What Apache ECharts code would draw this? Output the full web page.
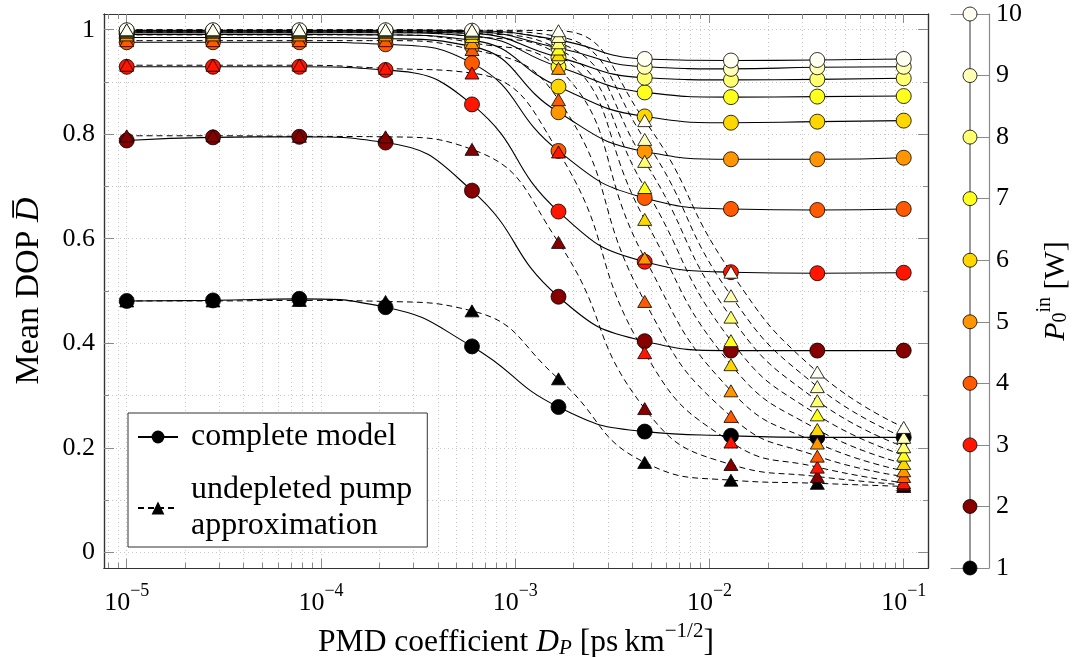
<!DOCTYPE html>
<html><head><meta charset="utf-8">
<script src="https://cdn.jsdelivr.net/npm/echarts@6/dist/echarts.min.js"></script>
<style>html,body{margin:0;padding:0;background:#fff}#c{width:1077px;height:657px}</style>
</head><body><div id="c"></div>
<script>
// PMD coefficient values (ps/sqrt(km)), log-spaced samples
const dp = [1e-5, 2.78e-5, 7.74e-5, 2.15e-4, 5.99e-4, 1.67e-3, 4.64e-3, 1.29e-2, 3.59e-2, 1e-1];

// complete model (circles, solid lines), P0in = 1..10 W
const complete1  = [0.481, 0.482, 0.485, 0.469, 0.394, 0.278, 0.231, 0.223, 0.220, 0.220];
const complete2  = [0.788, 0.794, 0.795, 0.784, 0.692, 0.489, 0.404, 0.386, 0.386, 0.386];
const complete3  = [0.929, 0.929, 0.929, 0.923, 0.857, 0.652, 0.556, 0.536, 0.534, 0.535];
const complete4  = [0.976, 0.976, 0.976, 0.972, 0.936, 0.768, 0.678, 0.657, 0.655, 0.657];
const complete5  = [0.985, 0.985, 0.985, 0.983, 0.968, 0.842, 0.767, 0.752, 0.752, 0.755];
const complete6  = [0.991, 0.991, 0.991, 0.990, 0.980, 0.891, 0.834, 0.822, 0.824, 0.826];
const complete7  = [0.994, 0.994, 0.994, 0.994, 0.988, 0.929, 0.880, 0.871, 0.872, 0.873];
const complete8  = [0.996, 0.996, 0.996, 0.996, 0.993, 0.947, 0.908, 0.904, 0.905, 0.907];
const complete9  = [0.998, 0.998, 0.998, 0.998, 0.996, 0.965, 0.929, 0.925, 0.928, 0.929];
const complete10 = [0.999, 0.999, 0.999, 0.999, 0.998, 0.980, 0.944, 0.941, 0.942, 0.944];

// undepleted pump approximation (triangles, dashed lines)
const undepleted1  = [0.481, 0.481, 0.482, 0.480, 0.462, 0.332, 0.172, 0.138, 0.132, 0.126];
const undepleted2  = [0.797, 0.797, 0.796, 0.795, 0.771, 0.593, 0.275, 0.168, 0.145, 0.129];
const undepleted3  = [0.932, 0.932, 0.932, 0.926, 0.917, 0.766, 0.382, 0.211, 0.163, 0.133];
const undepleted4  = [0.979, 0.979, 0.979, 0.979, 0.962, 0.866, 0.480, 0.260, 0.184, 0.145];
const undepleted5  = [0.990, 0.990, 0.990, 0.990, 0.975, 0.926, 0.563, 0.309, 0.209, 0.156];
const undepleted6  = [0.995, 0.995, 0.995, 0.995, 0.987, 0.952, 0.637, 0.359, 0.235, 0.170];
const undepleted7  = [0.997, 0.997, 0.997, 0.997, 0.993, 0.963, 0.698, 0.405, 0.263, 0.186];
const undepleted8  = [0.998, 0.998, 0.998, 0.998, 0.996, 0.975, 0.748, 0.450, 0.290, 0.202];
const undepleted9  = [0.999, 0.999, 0.999, 0.999, 0.998, 0.987, 0.790, 0.491, 0.317, 0.220];
const undepleted10 = [1.000, 1.000, 1.000, 1.000, 0.999, 0.998, 0.826, 0.536, 0.345, 0.239];

const powerLevels = [1, 2, 3, 4, 5, 6, 7, 8, 9, 10];
const powerColors = ['#000000', '#870000', '#ff1500', '#ff5a00', '#ff9500',
                     '#ffd700', '#ffff1e', '#ffff70', '#ffffb6', '#fffff2'];

const xMajorExp = [-5, -4, -3, -2, -1];
const yMajorTicks = [0, 0.2, 0.4, 0.6, 0.8, 1];
const yMinorTicks = [0, 0.1, 0.2, 0.3, 0.4, 0.5, 0.6, 0.7, 0.8, 0.9, 1];
const legendNames = ['complete model', 'undepleted pump approximation'];

const XMIN = -5.117, XMAX = -0.875, YMIN = -0.03, YMAX = 1.03;
const F = '"Liberation Serif", "DejaVu Serif", serif';
const AXC = '#333333', TICKC = '#8a8a8a', GRIDC = '#c6c6c6';

const completeSets = [complete1, complete2, complete3, complete4, complete5, complete6, complete7, complete8, complete9, complete10];
const undepletedSets = [undepleted1, undepleted2, undepleted3, undepleted4, undepleted5, undepleted6, undepleted7, undepleted8, undepleted9, undepleted10];
const logDp = dp.map(v => Math.log10(v));
const pts = arr => arr.map((y, i) => [logDp[i], y]);

// log minor tick positions
const xMinorPos = [];
for (let n = -6; n <= -1; n++) for (let k = 1; k <= 9; k++) {
  const v = Math.log10(k) + n;
  if (v >= XMIN && v <= XMAX) xMinorPos.push(v);
}

const xLabelRich = {
  b: {fontFamily: F, fontSize: 26, lineHeight: 34, verticalAlign: 'bottom', color: '#000'},
  s: {fontFamily: F, fontSize: 18, lineHeight: 18, verticalAlign: 'top', color: '#000'}
};

function xAx(pos, ticks, len, labels, grid) {
  return {
    type: 'value', min: XMIN, max: XMAX, position: pos, gridIndex: 0,
    axisLine: {show: true, onZero: false, lineStyle: {color: AXC, width: 1.2}},
    axisTick: {show: true, inside: true, length: len, customValues: ticks, lineStyle: {color: TICKC, width: 1}},
    axisLabel: labels ? {show: true, customValues: xMajorExp, margin: 14,
      formatter: v => '{b|10}{s|\u2212' + Math.round(-v) + '}', rich: xLabelRich} : {show: false},
    splitLine: {show: !!grid, lineStyle: {color: GRIDC, type: [1, 3], width: 1}},
    minorTick: {show: false}
  };
}
function yAx(pos, ticks, len, labels, grid) {
  return {
    type: 'value', min: YMIN, max: YMAX, position: pos, gridIndex: 0,
    axisLine: {show: true, onZero: false, lineStyle: {color: AXC, width: 1.2}},
    axisTick: {show: true, inside: true, length: len, customValues: ticks, lineStyle: {color: TICKC, width: 1}},
    axisLabel: labels ? {show: true, customValues: yMajorTicks, margin: 9, fontFamily: F, fontSize: 26, color: '#000',
      formatter: v => String(Math.round(v * 10) / 10)} : {show: false},
    splitLine: {show: !!grid, lineStyle: {color: GRIDC, type: [1, 3], width: 1}}
  };
}

const xAxes = [
  xAx('bottom', xMajorExp, 9, true, false),
  xAx('bottom', xMinorPos, 5, false, true),
  xAx('top', xMajorExp, 9, false, false),
  xAx('top', xMinorPos, 5, false, false)
];
xAxes[0].name = '{n|PMD coefficient }{i|D}{sub|P}{n| [ps\u2009km}{sup|\u22121/2}{n|]}';
xAxes[0].nameLocation = 'middle';
xAxes[0].nameGap = 48;
xAxes[0].nameTextStyle = {rich: {
  n: {fontFamily: F, fontSize: 31.5, lineHeight: 38, verticalAlign: 'bottom', color: '#000'},
  i: {fontFamily: F, fontSize: 31.5, lineHeight: 38, verticalAlign: 'bottom', fontStyle: 'italic', color: '#000'},
  sub: {fontFamily: F, fontSize: 21, lineHeight: 25, verticalAlign: 'bottom', fontStyle: 'italic', color: '#000'},
  sup: {fontFamily: F, fontSize: 21, lineHeight: 21, verticalAlign: 'top', color: '#000'}
}};
// right legend-axis grid x axes
xAxes.push({type: 'value', gridIndex: 1, min: -1, max: 1, position: 'bottom',
  axisLine: {show: true, onZero: false, lineStyle: {color: TICKC, width: 1}}, axisTick: {show: false}, axisLabel: {show: false}, splitLine: {show: false}});
xAxes.push({type: 'value', gridIndex: 1, min: -1, max: 1, position: 'top',
  axisLine: {show: true, onZero: false, lineStyle: {color: TICKC, width: 1}}, axisTick: {show: false}, axisLabel: {show: false}, splitLine: {show: false}});

const yAxes = [
  yAx('left', yMajorTicks, 10, true, false),
  yAx('left', yMinorTicks, 5, false, true),
  yAx('right', yMajorTicks, 10, false, false),
  yAx('right', yMinorTicks, 5, false, false)
];
yAxes[0].name = '{n|Mean DOP }{d|D\u0305}';
yAxes[0].nameLocation = 'middle';
yAxes[0].nameRotate = 90;
yAxes[0].nameGap = 58;
yAxes[0].nameTextStyle = {rich: {
  n: {fontFamily: F, fontSize: 34, color: '#000'},
  d: {fontFamily: F, fontSize: 34, fontStyle: 'italic', color: '#000'}
}};
yAxes.push({
  type: 'value', gridIndex: 1, min: 1, max: 10, interval: 1, position: 'right',
  axisLine: {show: true, onZero: false, lineStyle: {color: TICKC, width: 1.2}},
  axisTick: {show: true, inside: true, length: 12, lineStyle: {color: TICKC, width: 1}},
  axisLabel: {show: true, margin: 7, fontFamily: F, fontSize: 26, color: '#000'},
  splitLine: {show: false},
  name: '{i|P}{sub|0}{sup|in}{n| [W]}',
  nameLocation: 'middle', nameRotate: 90, nameGap: 46,
  nameTextStyle: {rich: {
    n: {fontFamily: F, fontSize: 30, lineHeight: 36, verticalAlign: 'bottom', color: '#000'},
    i: {fontFamily: F, fontSize: 30, lineHeight: 36, verticalAlign: 'bottom', fontStyle: 'italic', color: '#000'},
    sub: {fontFamily: F, fontSize: 20, lineHeight: 24, verticalAlign: 'bottom', color: '#000'},
    sup: {fontFamily: F, fontSize: 20, lineHeight: 20, verticalAlign: 'top', color: '#000'}
  }}
});

const series = [];
completeSets.forEach(arr => series.push({
  type: 'line', data: pts(arr), smooth: 0.5, symbol: 'none', silent: true, z: 2,
  lineStyle: {color: '#000', width: 1.1}
}));
undepletedSets.forEach(arr => series.push({
  type: 'line', data: pts(arr), smooth: 0.5, symbol: 'none', silent: true, z: 2,
  lineStyle: {color: '#000', width: 1.0, type: [6, 4]}
}));
completeSets.forEach((arr, i) => series.push({
  type: 'scatter', data: pts(arr), symbol: 'circle', symbolSize: 15, z: 3, silent: true,
  itemStyle: {color: powerColors[i], borderColor: '#000', borderWidth: 0.8, opacity: 1}
}));
undepletedSets.forEach((arr, i) => series.push({
  type: 'scatter', data: pts(arr), symbol: 'triangle', symbolSize: [14, 12], z: 4, silent: true,
  itemStyle: {color: powerColors[i], borderColor: '#000', borderWidth: 0.8, opacity: 1}
}));
// legend entries
series.push({type: 'line', name: legendNames[0], data: [], symbol: 'circle', symbolSize: 14,
  lineStyle: {color: '#000', width: 1.2}, itemStyle: {color: '#000'}});
series.push({type: 'line', name: legendNames[1], data: [], symbol: 'triangle', symbolSize: 14,
  lineStyle: {color: '#000', width: 1.2, type: [6, 4]}, itemStyle: {color: '#000'}});
// P0in colour axis
series.push({
  type: 'line', xAxisIndex: 4, yAxisIndex: 4, silent: true, z: 3,
  data: powerLevels.map((p, i) => ({value: [0, p], itemStyle: {color: powerColors[i]}})),
  symbol: 'circle', symbolSize: 14, showAllSymbol: true,
  lineStyle: {color: '#555', width: 1.2},
  itemStyle: {borderColor: '#000', borderWidth: 0.8}
});

const option = {
  animation: false,
  backgroundColor: '#fff',
  textStyle: {fontFamily: F},
  grid: [
    {left: 104, top: 14, width: 824, height: 554, containLabel: false, outerBoundsMode: 'none'},
    {left: 951, top: 14, width: 38, height: 554, containLabel: false, outerBoundsMode: 'none'}
  ],
  xAxis: xAxes,
  yAxis: yAxes,
  legend: {
    data: legendNames, orient: 'vertical', left: 128, top: 413, selectedMode: false,
    padding: [6, 15, 3, 9], itemGap: 17, itemWidth: 40, itemHeight: 16,
    backgroundColor: '#fff', borderColor: '#333', borderWidth: 1, borderRadius: 0,
    formatter: name => name === legendNames[1] ? 'undepleted pump\napproximation' : name,
    textStyle: {fontFamily: F, fontSize: 32, lineHeight: 36, color: '#000', padding: [0, 0, 0, 8]}
  },
  series: series
};
const chart = echarts.init(document.getElementById('c'), null, {renderer: 'canvas'});
chart.setOption(option);
</script></body></html>
